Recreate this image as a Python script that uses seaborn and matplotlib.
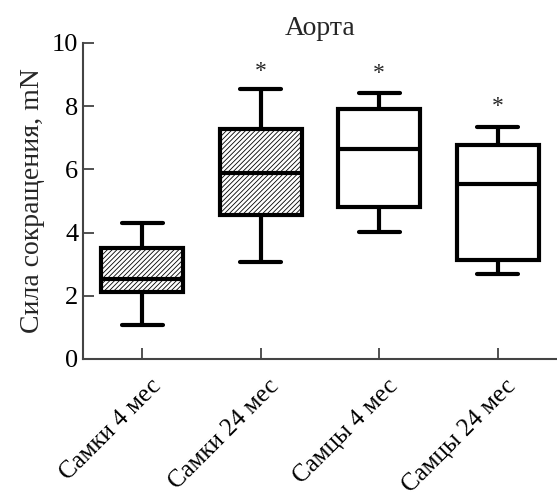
import matplotlib
matplotlib.use("Agg")
import matplotlib.pyplot as plt
import matplotlib.transforms as mtransforms
import seaborn as sns
import pandas as pd

# Box summaries: min, q1, median, q3, max
groups = ["Самки 4 мес", "Самки 24 мес", "Самцы 4 мес", "Самцы 24 мес"]
g_min = [1.08, 3.07, 4.02, 2.69]
g_q1 = [2.12, 4.56, 4.81, 3.13]
g_med = [2.53, 5.88, 6.65, 5.54]
g_q3 = [3.51, 7.28, 7.91, 6.77]
g_max = [4.30, 8.54, 8.42, 7.34]
hatched = [True, True, False, False]
star_pos = [1, 2, 3]
star_y = [9.1, 9.05, 8.0]

# five points per group give exact quartiles with linear percentiles
rows = []
for i, g in enumerate(groups):
    for v in [g_min[i], g_q1[i], g_med[i], g_q3[i], g_max[i]]:
        rows.append({"group": g, "value": v})
df = pd.DataFrame(rows)

sns.set_style("ticks")
plt.rcParams["font.family"] = ["Liberation Serif", "DejaVu Serif"]
plt.rcParams["hatch.linewidth"] = 0.6

fig = plt.figure(figsize=(5.57, 4.97), dpi=100)
ax = fig.add_axes([0.149, 0.2777, 0.851, 0.6358])

sns.boxplot(data=df, x="group", y="value", order=groups, whis=(0, 100),
            width=0.69, color="white", linecolor="black", linewidth=3,
            fliersize=0, ax=ax)

for patch, h in zip(ax.patches, hatched):
    if h:
        patch.set_hatch("///////")

for x, y in zip(star_pos, star_y):
    ax.text(x, y, "*", ha="center", va="center", fontsize=17)

ax.set_xlim(-0.5, 3.5)
ax.set_ylim(0, 10)
ax.set_yticks([0, 2, 4, 6, 8, 10])
ax.set_xlabel("")
ax.set_ylabel("Сила сокращения, mN", fontsize=20, labelpad=5)
ax.set_title("Аорта", fontsize=20, pad=6)

ax.tick_params(axis="both", direction="in", length=8, width=1.2,
               colors="#333333", labelcolor="black", labelsize=19)
ax.tick_params(axis="x", labelsize=18, pad=0)
shift = mtransforms.ScaledTranslation(15 / 100, -24 / 100, fig.dpi_scale_trans)
for lab in ax.get_xticklabels():
    lab.set_rotation(45)
    lab.set_ha("right")
    lab.set_va("center")
    lab.set_rotation_mode("anchor")
    lab.set_transform(lab.get_transform() + shift)

sns.despine(ax=ax)
for s in ["left", "bottom"]:
    ax.spines[s].set_linewidth(1.5)
    ax.spines[s].set_color("#444444")

fig.savefig("out.png", dpi=100)
